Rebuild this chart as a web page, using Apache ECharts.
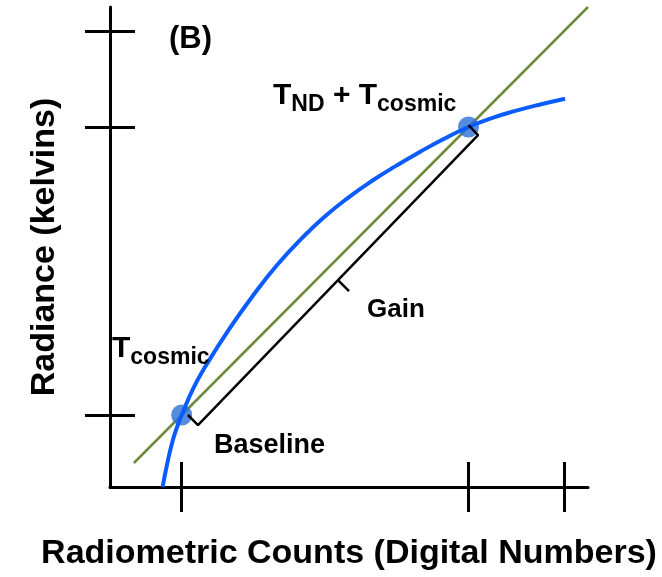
<!DOCTYPE html>
<html>
<head>
<meta charset="utf-8">
<script src="https://cdn.jsdelivr.net/npm/echarts@6/dist/echarts.min.js"></script>
<style>html,body{margin:0;padding:0;background:#fff;}#c{width:662px;height:577px;}</style>
</head>
<body>
<div id="c"></div>
<script>
// Axis tick positions (arbitrary units)
const xTicks = [150, 750, 950];
const yTicks = [150, 750, 950];
// Linear calibration line (green)
const linearFit = [[50, 50], [1000, 1000]];
// Nonlinear radiometer response curve (blue)
const responseCurve = [
  [110, 0], [120, 50], [130, 92], [140, 124], [150, 150], [175, 207],
  [200, 252], [250, 330], [300, 400], [350, 463], [400, 517], [450, 564],
  [500, 604], [550, 639], [600, 670], [650, 699], [700, 726], [750, 750],
  [800, 769], [850, 784], [900, 797], [952, 809]
];
// Calibration points: T_cosmic and T_ND + T_cosmic
const calibrationPoints = [[150, 150], [750, 750]];
// Gain bracket and its midpoint tick
const gainBracket = [[163, 150], [184, 129], [770, 733], [750, 754]];
const gainTick = [[477, 431], [500, 408]];

const FONT = '"Liberation Sans", Arial, sans-serif';
const chart = echarts.init(document.getElementById('c'), null, {renderer: 'canvas'});

function axisBase(extra) {
  return Object.assign({
    type: 'value', min: 0, max: 1000,
    axisLabel: {show: false},
    splitLine: {show: false},
    axisLine: {show: true, onZero: false, lineStyle: {color: '#000', width: 3}},
  }, extra);
}

chart.setOption({
  animation: false,
  backgroundColor: '#fff',
  grid: {left: 110, top: 7, width: 478, height: 480},
  xAxis: [
    axisBase({
      position: 'bottom',
      name: 'Radiometric Counts (Digital Numbers)',
      nameLocation: 'middle', nameGap: 50,
      nameTextStyle: {fontFamily: FONT, fontWeight: 'bold', fontSize: 34, color: '#000'},
      axisTick: {show: true, inside: false, length: 25, customValues: xTicks, lineStyle: {color: '#000', width: 3}}
    }),
    axisBase({
      position: 'bottom', offset: 0,
      axisLine: {show: false, onZero: false},
      axisTick: {show: true, inside: true, length: 25, customValues: xTicks, lineStyle: {color: '#000', width: 3}}
    })
  ],
  yAxis: [
    axisBase({
      position: 'left',
      name: 'Radiance (kelvins)',
      nameLocation: 'middle', nameGap: 48,
      nameTextStyle: {fontFamily: FONT, fontWeight: 'bold', fontSize: 34, color: '#000'},
      axisTick: {show: true, inside: false, length: 25, customValues: yTicks, lineStyle: {color: '#000', width: 3}}
    }),
    axisBase({
      position: 'left', offset: 0,
      axisLine: {show: false, onZero: false},
      axisTick: {show: true, inside: true, length: 25, customValues: yTicks, lineStyle: {color: '#000', width: 3}}
    })
  ],
  series: [
    {
      type: 'line', data: linearFit, symbol: 'none', z: 2,
      lineStyle: {color: '#6e8b3d', width: 2.5}
    },
    {
      type: 'scatter', data: calibrationPoints, symbolSize: 21, z: 3,
      itemStyle: {color: '#2c6fd6'}
    },
    {
      type: 'line', data: responseCurve, symbol: 'none', smooth: 0.5, z: 4,
      lineStyle: {color: '#0b5cff', width: 4}
    },
    {
      type: 'line', data: gainBracket, symbol: 'none', z: 5,
      lineStyle: {color: '#000', width: 2.5}
    },
    {
      type: 'line', data: gainTick, symbol: 'none', z: 5,
      lineStyle: {color: '#000', width: 2.5}
    }
  ],
  graphic: [
    {type: 'text', left: 169, top: 24, z: 10,
      style: {text: '(B)', fontFamily: FONT, fontWeight: 'bold', fontSize: 31, fill: '#000'}},
    {type: 'text', left: 273, top: 81, z: 10,
      style: {
        text: '{m|T}{s|ND}{m| + T}{s|cosmic}',
        rich: {
          m: {fontFamily: FONT, fontWeight: 'bold', fontSize: 30, lineHeight: 40, fill: '#000'},
          s: {fontFamily: FONT, fontWeight: 'bold', fontSize: 23, lineHeight: 19, verticalAlign: 'bottom', fill: '#000'}
        }
      }},
    {type: 'text', left: 112, top: 334, z: 10,
      style: {
        text: '{m|T}{s|cosmic}',
        rich: {
          m: {fontFamily: FONT, fontWeight: 'bold', fontSize: 30, lineHeight: 40, fill: '#000'},
          s: {fontFamily: FONT, fontWeight: 'bold', fontSize: 23, lineHeight: 19, verticalAlign: 'bottom', fill: '#000'}
        }
      }},
    {type: 'text', left: 367, top: 297, z: 10,
      style: {text: 'Gain', fontFamily: FONT, fontWeight: 'bold', fontSize: 26, fill: '#000'}},
    {type: 'text', left: 214, top: 432, z: 10,
      style: {text: 'Baseline', fontFamily: FONT, fontWeight: 'bold', fontSize: 27, fill: '#000'}}
  ]
});
</script>
</body>
</html>
